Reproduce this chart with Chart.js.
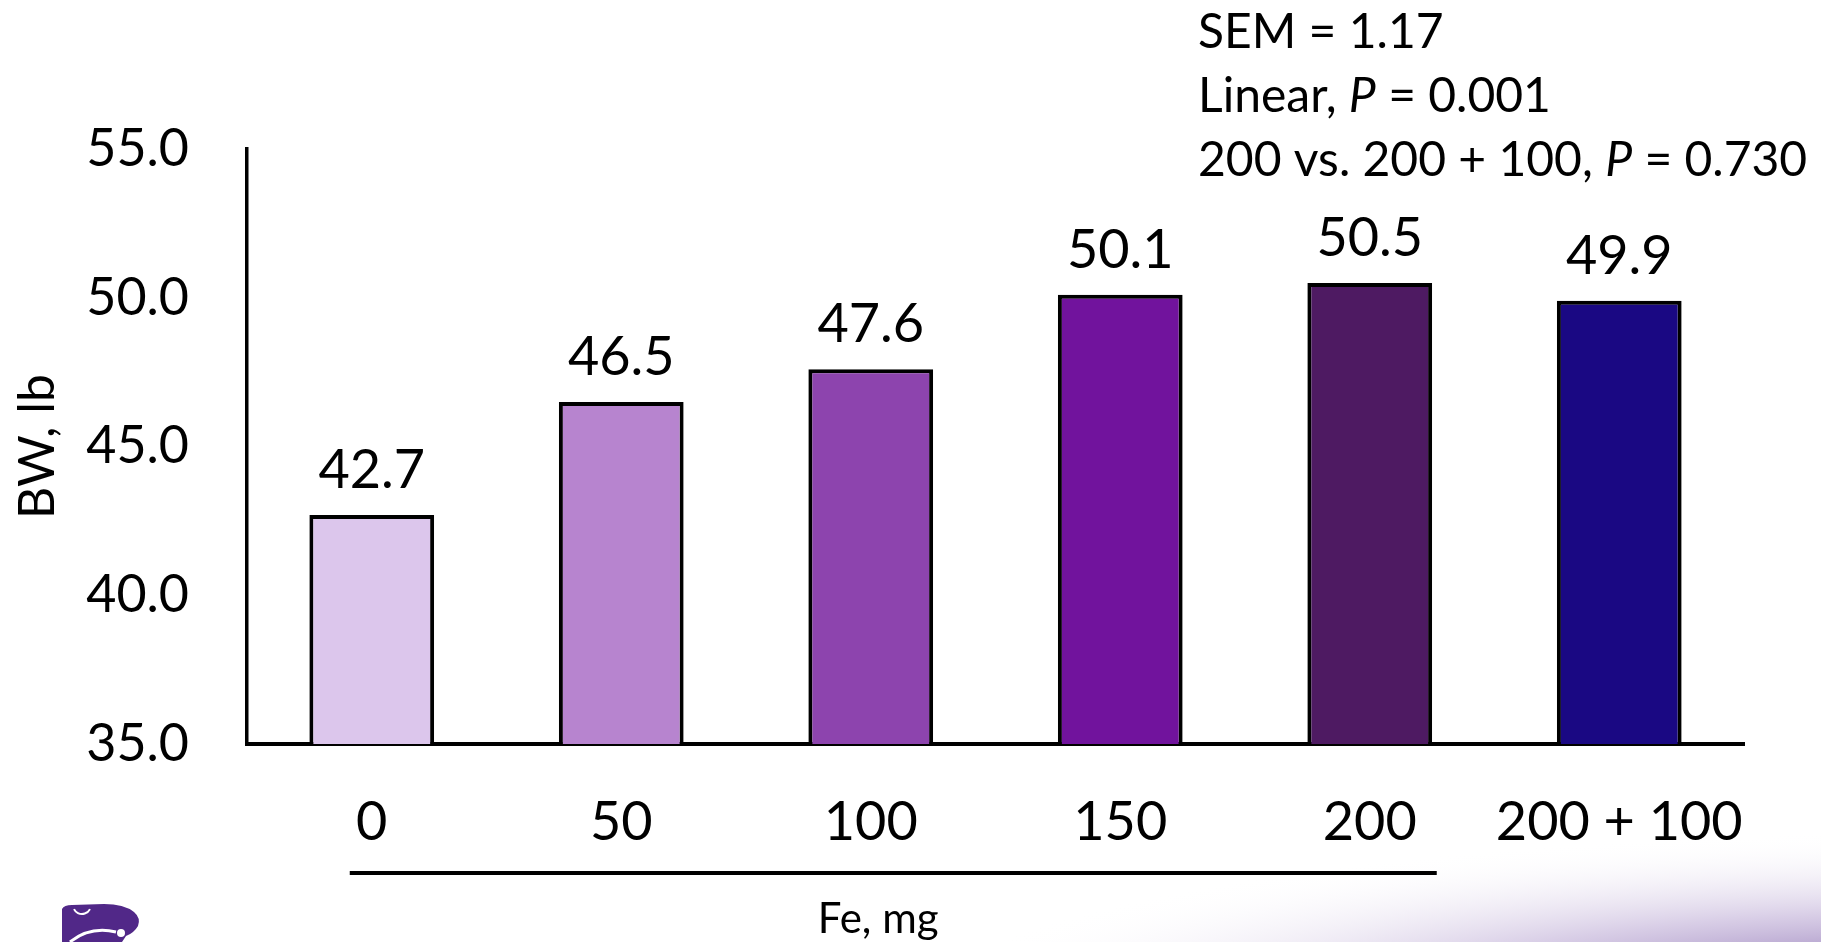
<!DOCTYPE html>
<html>
<head>
<meta charset="utf-8">
<script src="https://cdn.jsdelivr.net/npm/chart.js@4.4.1/dist/chart.umd.min.js"></script>
<style>
  html, body { margin: 0; padding: 0; background: #ffffff; overflow: hidden; }
  #wrap { width: 1821px; height: 942px; position: relative; }
  canvas { display: block; }
</style>
</head>
<body>
<div id="wrap"><canvas id="chart" width="1821" height="942"></canvas></div>
<script>
// Fe dose groups and body weight (lb)
const categories = ['0', '50', '100', '150', '200', '200 + 100'];
const bodyWeight = [42.7, 46.5, 47.6, 50.1, 50.5, 49.9];
const barColors = ['#DCC6EC', '#B784CF', '#8D44AE', '#71139D', '#4E1A62', '#1A0883'];
const yTickValues = [35, 40, 45, 50, 55];
const yAxisTitle = 'BW, lb';
const xAxisTitle = 'Fe, mg';
// Statistics block: each line is a list of [text, italic]
const statLines = [
  [['SEM = 1.17', false]],
  [['Linear, ', false], ['P', true], [' = 0.001', false]],
  [['200 vs. 200 + 100, ', false], ['P', true], [' = 0.730', false]]
];

const FONT = 'Lato, "Open Sans", sans-serif';
Chart.defaults.font.family = FONT;
Chart.defaults.color = '#000';

const decorPlugin = {
  id: 'decor',
  beforeDraw(chart) {
    const ctx = chart.ctx;
    const W = chart.width, H = chart.height;
    ctx.save();
    ctx.fillStyle = '#ffffff';
    ctx.fillRect(0, 0, W, H);

    // purple wash in the lower right corner
    ctx.save();
    ctx.translate(1960, 1010);
    ctx.scale(1, 0.17);
    const g = ctx.createRadialGradient(0, 0, 0, 0, 0, 1050);
    g.addColorStop(0, 'rgba(120, 90, 160, 1)');
    g.addColorStop(0.25, 'rgba(150, 125, 185, 0.95)');
    g.addColorStop(0.55, 'rgba(200, 185, 220, 0.7)');
    g.addColorStop(1, 'rgba(255, 255, 255, 0)');
    ctx.fillStyle = g;
    ctx.fillRect(-1100, -1100, 2200, 2200);
    ctx.restore();

    // wildcat emblem in the lower left corner
    ctx.fillStyle = '#512888';
    ctx.beginPath();
    ctx.moveTo(62, 942);
    ctx.lineTo(62, 909);
    ctx.quadraticCurveTo(64, 905, 72, 905);
    ctx.lineTo(104, 904);
    ctx.quadraticCurveTo(124, 904, 134, 912);
    ctx.quadraticCurveTo(141, 918, 138, 926);
    ctx.quadraticCurveTo(134, 933, 126, 936);
    ctx.lineTo(122, 942);
    ctx.closePath();
    ctx.fill();
    ctx.strokeStyle = '#ffffff';
    ctx.lineWidth = 2;
    ctx.beginPath();
    ctx.arc(82, 905, 9, 0.15 * Math.PI, 0.85 * Math.PI);
    ctx.stroke();
    ctx.lineWidth = 3;
    ctx.beginPath();
    ctx.moveTo(70, 942);
    ctx.quadraticCurveTo(90, 926, 116, 932);
    ctx.stroke();
    ctx.fillStyle = '#ffffff';
    ctx.beginPath();
    ctx.arc(121, 933, 4, 0, Math.PI * 2);
    ctx.fill();
    ctx.restore();
  },
  afterDraw(chart) {
    const ctx = chart.ctx;
    const meta = chart.getDatasetMeta(0);
    const bars = meta.data;
    ctx.save();
    ctx.fillStyle = '#000';

    // value labels above the bars
    ctx.font = '54px ' + FONT;
    ctx.textAlign = 'center';
    ctx.textBaseline = 'alphabetic';
    bars.forEach((bar, i) => {
      ctx.fillText(bodyWeight[i].toFixed(1), bar.x, bar.y - 27);
    });

    // bracket under the single-source Fe doses
    ctx.strokeStyle = '#000';
    ctx.lineWidth = 4;
    ctx.beginPath();
    ctx.moveTo(bars[0].x - 22, 873);
    ctx.lineTo(bars[4].x + 67, 873);
    ctx.stroke();

    // bracket caption
    ctx.font = '42px ' + FONT;
    ctx.textAlign = 'left';
    ctx.fillText(xAxisTitle, bars[2].x - 53, 933);

    // statistics block
    const baselines = [48, 112, 176];
    statLines.forEach((parts, li) => {
      let x = 1198;
      parts.forEach(([txt, italic]) => {
        ctx.font = (italic ? 'italic ' : '') + '48px ' + FONT;
        ctx.fillText(txt, x, baselines[li]);
        x += ctx.measureText(txt).width;
      });
    });
    ctx.restore();
  }
};

new Chart(document.getElementById('chart'), {
  type: 'bar',
  data: {
    labels: categories,
    datasets: [{
      data: bodyWeight,
      backgroundColor: barColors,
      borderColor: '#000',
      borderWidth: 4,
      barPercentage: 0.5,
      categoryPercentage: 1.0
    }]
  },
  options: {
    responsive: false,
    animation: false,
    devicePixelRatio: 1,
    layout: { padding: { top: 149, right: 77, bottom: 0, left: 0 } },
    plugins: {
      legend: { display: false },
      tooltip: { enabled: false }
    },
    scales: {
      x: {
        grid: { display: false, drawTicks: false },
        border: { display: true, color: '#000', width: 4 },
        ticks: {
          font: { size: 54 },
          color: '#000',
          padding: 46,
          autoSkip: false,
          maxRotation: 0,
          minRotation: 0
        },
        afterFit(s) { s.height = 198; }
      },
      y: {
        min: 35,
        max: 55,
        afterBuildTicks(s) { s.ticks = yTickValues.map(v => ({ value: v })); },
        grid: { display: false, drawTicks: false },
        border: { display: true, color: '#000', width: 3.5 },
        ticks: {
          font: { size: 52 },
          color: '#000',
          padding: 58,
          callback: v => Number(v).toFixed(1)
        },
        title: {
          display: true,
          text: yAxisTitle,
          font: { size: 50 },
          color: '#000',
          padding: { top: 8, bottom: 0 }
        },
        afterFit(s) { s.width = 247; }
      }
    }
  },
  plugins: [decorPlugin]
});
</script>
</body>
</html>
